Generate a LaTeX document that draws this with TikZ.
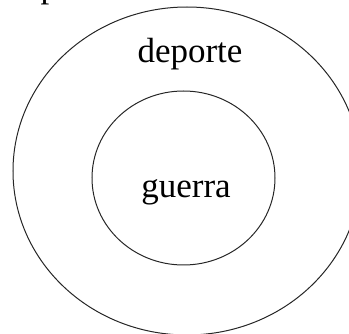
\documentclass[tikz,border=0pt]{standalone}
\usepackage{fontspec}
\setmainfont{Liberation Serif}
\usetikzlibrary{positioning}

\begin{document}
\begin{tikzpicture}[x=1pt, y=-1pt,
    ring/.style={draw=black!85, line width=1pt},
    word/.style={anchor=base, inner sep=0pt, font=\fontsize{35}{40}\selectfont}
]
\useasboundingbox (0,0) rectangle (349,334);
\clip (0,0) rectangle (349,334);
% cut-off label at the top edge
\node[word] (cut) at (60,-2) {deporte};
% the two rings
\draw[ring] (187,171) ellipse [x radius=174pt, y radius=164pt];
\draw[ring] (183.5,178) ellipse [x radius=91.5pt, y radius=87pt];
\node[word] (outer) at (190,63) {deporte};
\node[word] (inner) at (186,198) {guerra};
\end{tikzpicture}
\end{document}
